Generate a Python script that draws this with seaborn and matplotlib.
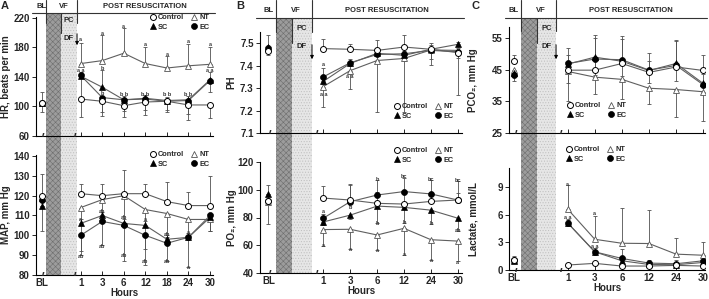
import numpy as np
import pandas as pd
import matplotlib.pyplot as plt
import matplotlib.transforms as mtransforms
from matplotlib.lines import Line2D
from matplotlib.patches import Rectangle, FancyArrowPatch
import seaborn as sns

# time points
hours_a = ['BL', '1', '3', '6', '12', '18', '24', '30']
hours_bc = ['BL', '1', '3', '6', '12', '24', '30']
groups = ['Control', 'NT', 'SC', 'EC']

# A top - HR
hr_control = [104, 110, 107, 101, 106, 107, 102, 102]
hr_nt = [105, 158, 162, 172, 158, 152, 155, 157]
hr_sc = [104, 141, 126, 109, 111, 108, 109, 136]
hr_ec = [104, 142, 112, 109, 110, 107, 108, 135]
hr_control_sd = [12, 24, 20, 15, 18, 15, 20, 18]
hr_nt_sd = [0, 28, 35, 34, 23, 16, 30, 24]
hr_sc_sd = [15, 5, 23, 5, 5, 5, 5, 10]
hr_ec_sd = [0, 30, 20, 15, 15, 12, 18, 15]
hr_letters = [('1', 190, 'a'), ('1', 148, 'a a'), ('3', 199, 'a'), ('3', 151, 'b'), ('3', 117, 'b'),
              ('6', 208, 'a'), ('6', 116, 'b b'), ('12', 184, 'a'), ('12', 116, 'b b'),
              ('18', 170, 'a'), ('18', 116, 'b b'), ('24', 188, 'a'), ('24', 116, 'b b'),
              ('30', 184, 'a'), ('30', 148, 'a a')]

# A bottom - MAP
map_control = [120, 121, 120, 121, 121, 117, 115, 115]
map_nt = [119, 114, 118, 120, 113, 111, 108, 108]
map_sc = [115, 106, 110, 106, 105, 98, 99, 109]
map_ec = [118, 100, 107, 105, 100, 96, 99, 110]
map_control_sd = [11, 5, 6, 12, 5, 10, 7, 15]
map_nt_sd = [0, 24, 10, 15, 20, 12, 10, 6]
map_sc_sd = [0, 2, 2, 2, 2, 2, 2, 2]
map_ec_sd = [16, 8, 12, 18, 15, 9, 15, 8]
map_letters = [('1', 108, 'a'), ('1', 89.5, 'ab'), ('3', 112, 'ab'), ('3', 94.5, 'ab'),
               ('6', 109, 'ab'), ('6', 90, 'ab'), ('12', 108, 'a'), ('12', 87, 'ab'),
               ('18', 100.5, 'ab'), ('18', 87, 'ab'), ('24', 101.5, 'a'), ('24', 84, 'a')]

# B top - pH
ph_control = [7.465, 7.476, 7.473, 7.468, 7.483, 7.473, 7.458]
ph_nt = [7.477, 7.307, 7.378, 7.423, 7.432, 7.470, 7.468]
ph_sc = [7.483, 7.330, 7.410, 7.455, 7.446, 7.473, 7.495]
ph_ec = [7.477, 7.350, 7.413, 7.450, 7.453, 7.468, 7.462]
ph_control_sd = [0.07, 0.045, 0.025, 0.045, 0.055, 0.03, 0.02]
ph_nt_sd = [0.02, 0.09, 0.08, 0.23, 0.24, 0.065, 0.2]
ph_sc_sd = [0, 0.06, 0.02, 0.02, 0.02, 0.02, 0.01]
ph_ec_sd = [0.03, 0.03, 0.05, 0.03, 0.03, 0.04, 0.03]
ph_letters = [('1', 7.405, 'a'), ('1', 7.273, 'a a'), ('3', 7.353, 'a a')]

# B bottom - PO2
po2_control = [91.6, 94, 92.6, 90.2, 89.7, 91.6, 92.6]
po2_nt = [91, 71.3, 71.5, 67.4, 72.2, 64, 63]
po2_sc = [97, 76.8, 81.7, 88.2, 87.3, 85.3, 79.5]
po2_ec = [92, 79.5, 91.4, 96.2, 98.7, 97, 92.6]
po2_control_sd = [12, 9, 11, 8, 8, 7, 5]
po2_nt_sd = [16, 12, 14.5, 10.5, 19, 14.3, 14.5]
po2_sc_sd = [0, 2, 3, 12, 11, 10, 9]
po2_ec_sd = [0, 3, 12.5, 11, 10, 10, 14]
po2_letters = [('1', 84, 'a'), ('1', 74.7, 'a'), ('1', 59.9, 'a'), ('3', 87.3, 'b'), ('3', 57, 'a'),
               ('6', 107.4, 'b'), ('6', 75.6, 'b'), ('6', 56.5, 'a'), ('12', 109.6, 'bc'),
               ('12', 76.4, 'b'), ('12', 53.3, 'a'), ('24', 107.4, 'bc'), ('24', 75.6, 'b'),
               ('24', 49.2, 'a'), ('30', 106.7, 'bc'), ('30', 70.3, 'ab'), ('30', 47.8, 'a')]

# C top - PCO2
pco2_control = [47.6, 44.8, 44.8, 46.9, 44.1, 45.8, 44.7]
pco2_nt = [45, 44.4, 42.6, 41.9, 39.1, 38.7, 38]
pco2_sc = [43.9, 46.7, 48.9, 47.6, 44.7, 46.9, 40.6]
pco2_ec = [43.3, 46.9, 48.3, 48.1, 44.8, 46.3, 40.2]
pco2_control_sd = [2, 7, 11, 8.7, 6, 8.6, 5]
pco2_nt_sd = [2, 9.4, 5.4, 6.3, 5, 8.7, 9.1]
pco2_sc_sd = [0, 3, 6, 7, 3, 7, 3]
pco2_ec_sd = [2, 6, 5, 5, 4, 5, 3]

# C bottom - lactate
lac_control = [1.1, 0.54, 0.72, 0.43, 0.43, 0.5, 0.43]
lac_nt = [1.1, 6.6, 3.33, 2.9, 2.87, 1.72, 1.6]
lac_sc = [1.0, 5.1, 1.97, 1.0, 0.6, 0.57, 0.82]
lac_ec = [1.1, 5.1, 1.97, 1.25, 0.75, 0.68, 1.0]
lac_control_sd = [0.4, 0.1, 0.1, 0.1, 0.1, 0.1, 0.1]
lac_nt_sd = [0, 2.65, 2.5, 3.85, 3.6, 1.7, 1.45]
lac_sc_sd = [0, 0.4, 0.4, 0.3, 0.3, 0.3, 0.3]
lac_ec_sd = [0, 0.3, 0.4, 1.0, 0.3, 0.4, 0.4]
lac_letters = [('1', 9.3, 'a'), ('1', 5.66, 'a a'), ('3', 6.13, 'a'), ('3', 2.6, 'a a')]

sns.set_theme(style='ticks')
plt.rcParams['font.family'] = ['Liberation Sans', 'DejaVu Sans']
plt.rcParams['font.weight'] = 'bold'
plt.rcParams['axes.labelweight'] = 'bold'
plt.rcParams['hatch.linewidth'] = 0.4
plt.rcParams['axes.linewidth'] = 0.8
plt.rcParams['axes.edgecolor'] = 'black'

W, H = 709, 299
fig = plt.figure(figsize=(W / 100, H / 100), dpi=100)


def px_ax(l, t, r, b):
    return fig.add_axes([l / W, 1 - b / H, (r - l) / W, (b - t) / H])


def fy(y):
    return 1 - y / H


styles = {
    'Control': dict(marker='o', mfc='white', mec='black', mew=0.7, ms=4.3),
    'NT': dict(marker='^', mfc='white', mec='#555555', mew=0.6, ms=4.6),
    'SC': dict(marker='^', mfc='black', mec='black', mew=0.5, ms=4.3),
    'EC': dict(marker='o', mfc='black', mec='black', mew=0.5, ms=4.3),
}
draw_order = ['NT', 'SC', 'EC', 'Control']


def panel(ax, labels, bl, vals, sds, dirs, ylim, yticks, xlim, ylabel, ylab_x, letters, show_x):
    xs = np.r_[bl, np.arange(len(labels) - 1)]
    rows = [{'x': x, 'y': v, 'group': g} for g in groups for x, v in zip(xs[1:], vals[g][1:])]
    sns.lineplot(data=pd.DataFrame(rows), x='x', y='y', hue='group',
                 palette={g: '#5f5f5f' for g in groups}, estimator=None, sort=False,
                 lw=0.8, legend=False, ax=ax, zorder=2)
    for g in draw_order:
        e = np.array(sds[g], float)
        z = np.zeros_like(e)
        lo, hi = (e, z) if dirs[g] < 0 else (z, e)
        ax.errorbar(xs, vals[g], yerr=[lo, hi], fmt='none', ecolor='#505050',
                    elinewidth=0.6, capsize=1.4, capthick=0.6, zorder=2.5)
    for g in draw_order:
        ax.plot(xs, vals[g], ls='none', zorder=4, **styles[g])
    for lab, y, t in letters:
        ax.text(labels.index(lab) - 1, y, t, fontsize=4, ha='center', va='center', color='#333333')
    ax.set_xlim(xlim)
    ax.set_ylim(ylim)
    ax.set_yticks(yticks)
    ax.set_xticks(xs)
    ax.set_xticklabels(labels if show_x else [])
    ax.xaxis.get_major_ticks()[0].tick1line.set_visible(False)
    ax.tick_params(axis='x', direction='in', length=3, width=0.7, labelsize=7, pad=2)
    ax.tick_params(axis='y', direction='out', length=3, width=0.7, labelsize=7, pad=1.5)
    sns.despine(ax=ax)
    ax.patch.set_alpha(0)
    ax.set_ylabel(ylabel, fontsize=7, fontweight='bold')
    ax.yaxis.set_label_coords(ylab_x, 0.5)
    ax.set_xlabel('Hours' if show_x else '', fontsize=7, fontweight='bold', labelpad=0)
    for bx in (bl + 0.1, -0.22):
        ax.text(bx, ylim[0], '//', fontsize=4.5, ha='center', va='center', clip_on=False, zorder=5)
    return xs


def legend_at(x, y):
    order = ['Control', 'SC', 'NT', 'EC']
    handles = [Line2D([], [], ls='none', **styles[g]) for g in order]
    fig.legend(handles, order, loc='upper left', bbox_to_anchor=(x / W, fy(y)), ncol=2,
               frameon=False, prop={'weight': 'bold', 'size': 5.3}, handlelength=0.8,
               handletextpad=0.3, columnspacing=0.9, labelspacing=0.35, borderpad=0,
               borderaxespad=0)


def header(ax, letter, letter_x, bl, dark0, dark1, light1, right, shade_top, shade_bot,
           hline_y, text_y, vline_bot, pc_bot, pc_y, df_y, arr0, arr1):
    tr = mtransforms.blended_transform_factory(ax.transData, fig.transFigure)
    tra = mtransforms.blended_transform_factory(ax.transAxes, fig.transFigure)
    fig.add_artist(Rectangle((dark0, fy(shade_bot)), dark1 - dark0, fy(shade_top) - fy(shade_bot),
                             transform=tr, facecolor='#9c9c9c', edgecolor='#6e6e6e',
                             hatch='xxxxxx', lw=0, zorder=-1))
    fig.add_artist(Rectangle((dark1, fy(shade_bot)), light1 - dark1, fy(shade_top) - fy(shade_bot),
                             transform=tr, facecolor='#e6e6e6', edgecolor='#bdbdbd',
                             hatch='......', lw=0, zorder=-1))
    fig.add_artist(Line2D([-0.02, 1.01], [fy(hline_y)] * 2, transform=tra, color='#333333', lw=0.8))
    for vx in (dark0, light1):
        fig.add_artist(Line2D([vx, vx], [fy(0), fy(vline_bot)], transform=tr, color='#333333', lw=0.8))
    fig.add_artist(Line2D([dark1, dark1], [fy(hline_y), fy(pc_bot)], transform=tr, color='#333333', lw=0.8))
    fig.add_artist(FancyArrowPatch((light1, fy(arr0)), (light1, fy(arr1)), transform=tr,
                                   arrowstyle='-|>', mutation_scale=5, lw=0.7, color='black'))
    kw = dict(transform=tr, fontsize=5.5, fontweight='bold', ha='center', va='center')
    fig.text(bl, fy(text_y), 'BL', **kw)
    fig.text(dark1 + 0.15, fy(text_y), 'VF', **kw)
    fig.text((light1 + right) / 2, fy(text_y), 'POST RESUSCITATION', **kw)
    fig.text((dark1 + light1) / 2, fy(pc_y), 'PC', **kw)
    fig.text((dark1 + light1) / 2, fy(df_y), 'DF', **kw)
    fig.text(letter_x / W, fy(6), letter, fontsize=8, fontweight='bold', ha='left', va='center')


# ---- panel A ----
xl_a = ((36 - 80.7) / 21.55, (213 - 80.7) / 21.55)
bl_a = -1.81
ax1 = px_ax(36, 17, 213, 136)
panel(ax1, hours_a, bl_a,
      {'Control': hr_control, 'NT': hr_nt, 'SC': hr_sc, 'EC': hr_ec},
      {'Control': hr_control_sd, 'NT': hr_nt_sd, 'SC': hr_sc_sd, 'EC': hr_ec_sd},
      {'Control': -1, 'NT': 1, 'SC': 1, 'EC': -1},
      (60, 221), [60, 100, 140, 180, 220], xl_a, 'HR, beats per min', (11 - 36) / 177, hr_letters, False)
ax2 = px_ax(36, 155, 213, 275)
panel(ax2, hours_a, bl_a,
      {'Control': map_control, 'NT': map_nt, 'SC': map_sc, 'EC': map_ec},
      {'Control': map_control_sd, 'NT': map_nt_sd, 'SC': map_sc_sd, 'EC': map_ec_sd},
      {'Control': 1, 'NT': -1, 'SC': 1, 'EC': -1},
      (80, 140.5), [80, 90, 100, 110, 120, 130, 140], xl_a, 'MAP, mm Hg', (11 - 36) / 177, map_letters, True)
header(ax1, 'A', 1, bl_a, -1.61, -0.914, -0.17, xl_a[1], 12.7, 275,
       12.7, 6.5, 22.5, 33, 21, 38, 31, 48)
legend_at(150, 14)
legend_at(150, 151)

# ---- panel B ----
xl_b = ((260 - 323.3) / 26.9, (462 - 323.3) / 26.9)
bl_b = -2.04
ax3 = px_ax(260, 32, 462, 133)
panel(ax3, hours_bc, bl_b,
      {'Control': ph_control, 'NT': ph_nt, 'SC': ph_sc, 'EC': ph_ec},
      {'Control': ph_control_sd, 'NT': ph_nt_sd, 'SC': ph_sc_sd, 'EC': ph_ec_sd},
      {'Control': 1, 'NT': -1, 'SC': 1, 'EC': -1},
      (7.1, 7.55), [7.1, 7.2, 7.3, 7.4, 7.5], xl_b, 'PH', (236 - 260) / 202, ph_letters, False)
ax3.set_yticklabels(['7.1', '7.2', '7.3', '7.4', '7.5'])
ax4 = px_ax(260, 162, 462, 273)
panel(ax4, hours_bc, bl_b,
      {'Control': po2_control, 'NT': po2_nt, 'SC': po2_sc, 'EC': po2_ec},
      {'Control': po2_control_sd, 'NT': po2_nt_sd, 'SC': po2_sc_sd, 'EC': po2_ec_sd},
      {'Control': 1, 'NT': -1, 'SC': -1, 'EC': 1},
      (40, 120), [40, 60, 80, 100, 120], xl_b, 'PO₂, mm Hg', (237 - 260) / 202, po2_letters, True)
header(ax3, 'B', 236, bl_b, -1.76, -1.16, -0.42, xl_b[1], 18, 273,
       18, 10, 32, 43, 29, 47, 42, 62)
legend_at(394, 103)
legend_at(394, 147)

# ---- panel C ----
xl_c = ((509 - 567.7) / 27.1, (705 - 567.7) / 27.1)
bl_c = -2.0
ax5 = px_ax(509, 27, 705, 133)
panel(ax5, hours_bc, bl_c,
      {'Control': pco2_control, 'NT': pco2_nt, 'SC': pco2_sc, 'EC': pco2_ec},
      {'Control': pco2_control_sd, 'NT': pco2_nt_sd, 'SC': pco2_sc_sd, 'EC': pco2_ec_sd},
      {'Control': 1, 'NT': -1, 'SC': 1, 'EC': -1},
      (25, 58.4), [25, 35, 45, 55], xl_c, 'PCO₂, mm Hg', (478 - 509) / 196, [], False)
ax6 = px_ax(509, 168, 705, 270)
panel(ax6, hours_bc, bl_c,
      {'Control': lac_control, 'NT': lac_nt, 'SC': lac_sc, 'EC': lac_ec},
      {'Control': lac_control_sd, 'NT': lac_nt_sd, 'SC': lac_sc_sd, 'EC': lac_ec_sd},
      {'Control': 1, 'NT': 1, 'SC': 1, 'EC': 1},
      (0, 11.06), [0, 3, 6, 9], xl_c, 'Lactate, mmol/L', (479 - 509) / 196, lac_letters, True)
header(ax5, 'C', 472, bl_c, -1.72, -1.13, -0.43, xl_c[1], 18, 270,
       18, 10, 31, 43, 29, 47, 42, 62)
legend_at(567, 102)
legend_at(566, 146)

fig.savefig('out.png', dpi=100)
